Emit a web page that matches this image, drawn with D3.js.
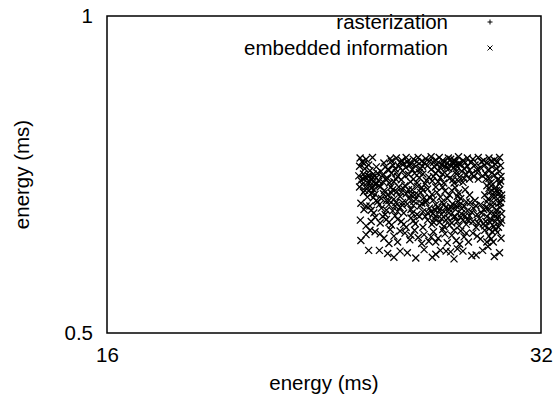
<!DOCTYPE html>
<html><head><meta charset="utf-8">
<script src="https://cdn.jsdelivr.net/npm/d3@7"></script>
<style>body{margin:0;background:#fff}svg{display:block}text{font-family:"Liberation Sans",Arial,sans-serif}</style>
</head><body><svg id="c" width="556" height="398"></svg>
<script>
const seriesNames = ["rasterization", "embedded information"];
const xTicks = [16, 32];
const yTicks = [0.5, 1];
const xLabel = "energy (ms)";
const yLabel = "energy (ms)";
const rasterization = [];
const embeddedInformation = [
[23.97,0.733],[24.20,0.731],[24.45,0.734],[25.40,0.733],[25.62,0.729],[25.80,0.734],[26.10,0.731],[26.30,0.734],[26.45,0.728],[26.62,0.732],[26.85,0.735],[27.05,0.730],[27.20,0.734],[27.40,0.727],[27.60,0.733],[27.85,0.730],[28.05,0.735],[28.25,0.729],[28.45,0.733],[28.70,0.731],[28.95,0.734],[29.20,0.729],[29.45,0.733],[29.70,0.730],[29.95,0.734],[24.05,0.727],[26.95,0.726],[27.75,0.726],[28.60,0.726],[29.85,0.727],
[23.95,0.720],[24.15,0.716],[24.30,0.722],[24.95,0.719],[25.10,0.714],[25.25,0.722],[25.35,0.716],[25.50,0.720],[25.65,0.713],[25.78,0.718],[25.95,0.722],[26.05,0.715],[26.70,0.721],[26.85,0.715],[27.00,0.719],[27.15,0.713],[27.30,0.722],[27.50,0.717],[27.70,0.721],[27.95,0.712],[28.00,0.719],[28.15,0.723],[28.30,0.716],[28.45,0.720],[29.05,0.718],[29.25,0.722],[29.40,0.714],[29.60,0.719],[29.80,0.716],[30.00,0.721],[28.20,0.712],[27.85,0.718],
[23.92,0.705],[24.00,0.698],[24.10,0.708],[24.18,0.702],[24.25,0.695],[24.32,0.704],[24.40,0.699],[24.48,0.708],[24.55,0.693],[24.60,0.702],[24.70,0.697],[24.05,0.692],[24.85,0.706],[25.05,0.701],[25.20,0.709],[25.30,0.696],[25.45,0.704],[25.60,0.699],[25.90,0.707],[26.10,0.700],[26.25,0.694],[26.50,0.708],[26.75,0.703],[26.90,0.697],[27.05,0.709],[27.25,0.702],[27.40,0.694],[27.55,0.706],[27.80,0.699],[27.95,0.708],[28.10,0.703],[28.25,0.695],[28.40,0.707],[28.55,0.700],[28.75,0.704],[29.30,0.708],[29.45,0.701],[29.55,0.695],[29.70,0.706],[29.85,0.699],[30.02,0.704],[29.95,0.693],[24.38,0.691],[26.60,0.693],
[23.95,0.688],[24.10,0.680],[24.25,0.673],[24.40,0.686],[24.55,0.677],[24.70,0.690],[24.80,0.671],[24.92,0.683],[25.05,0.676],[25.18,0.688],[25.30,0.670],[25.42,0.681],[25.55,0.674],[25.68,0.686],[25.80,0.678],[25.92,0.671],[26.05,0.684],[26.15,0.676],[26.28,0.689],[26.40,0.680],[26.55,0.672],[26.70,0.685],[26.88,0.677],[27.05,0.688],[27.25,0.673],[27.45,0.682],[27.65,0.676],[27.90,0.687],[28.05,0.679],[28.15,0.671],[29.35,0.690],[29.50,0.681],[29.62,0.674],[29.75,0.687],[29.90,0.678],[30.05,0.671],[29.40,0.670],[25.10,0.668],[24.60,0.668],[26.95,0.669],
[24.00,0.664],[24.12,0.655],[24.35,0.660],[24.50,0.650],[24.65,0.666],[24.80,0.657],[24.95,0.648],[25.10,0.662],[25.25,0.653],[25.38,0.665],[25.55,0.658],[25.70,0.650],[25.85,0.663],[26.00,0.655],[26.12,0.667],[26.25,0.648],[26.38,0.660],[26.50,0.652],[26.62,0.665],[26.78,0.657],[26.92,0.649],[27.05,0.662],[27.20,0.654],[27.32,0.666],[27.48,0.658],[27.62,0.650],[27.78,0.663],[27.92,0.655],[28.05,0.667],[28.18,0.649],[28.30,0.660],[28.45,0.653],[28.58,0.665],[28.72,0.657],[28.90,0.648],[29.05,0.662],[29.20,0.655],[29.35,0.666],[29.50,0.650],[29.62,0.660],[29.78,0.654],[29.92,0.664],[30.05,0.649],[29.98,0.658],
[23.98,0.640],[24.20,0.632],[24.55,0.644],[24.75,0.636],[25.00,0.641],[25.20,0.633],[25.35,0.646],[25.60,0.638],[25.80,0.630],[26.00,0.643],[26.18,0.635],[26.35,0.645],[26.50,0.630],[26.70,0.640],[26.88,0.634],[27.05,0.646],[27.22,0.637],[27.40,0.631],[27.58,0.643],[27.75,0.636],[27.90,0.645],[28.08,0.632],[28.25,0.640],[28.40,0.634],[28.55,0.646],[28.70,0.638],[28.85,0.630],[29.00,0.642],[29.18,0.635],[29.35,0.645],[29.50,0.637],[29.68,0.631],[29.82,0.643],[30.00,0.636],
[24.20,0.620],[24.55,0.624],[24.90,0.615],[25.15,0.627],[25.30,0.618],[25.45,0.610],[25.75,0.622],[25.95,0.613],[26.15,0.626],[26.30,0.616],[26.55,0.620],[26.75,0.611],[26.95,0.624],[27.15,0.615],[27.35,0.627],[27.55,0.609],[27.75,0.619],[27.95,0.612],[28.15,0.625],[28.30,0.617],[28.50,0.610],[28.70,0.622],[29.05,0.614],[29.25,0.626],[29.45,0.618],[29.65,0.610],[29.85,0.623],[30.02,0.615],[24.00,0.612],[26.45,0.608],
[24.30,0.599],[24.72,0.599],[25.05,0.595],[25.30,0.590],[25.55,0.598],[25.85,0.596],[26.20,0.589],[26.55,0.600],[27.05,0.594],[27.25,0.599],[27.50,0.598],[27.70,0.597],[28.00,0.601],[28.25,0.598],[28.65,0.592],[28.85,0.593],[29.15,0.599],[29.70,0.591],[29.95,0.596],[26.90,0.590],[27.85,0.588],[29.40,0.604],
[24.08,0.701],[24.22,0.689],[24.35,0.696],[24.50,0.684],[24.62,0.693],[24.15,0.683],[24.42,0.679],[24.28,0.705],[24.75,0.688],[24.88,0.695],
[25.85,0.727],[26.00,0.724],[26.20,0.720],[26.40,0.716],[26.55,0.725],[26.35,0.710],[26.15,0.709],[25.70,0.724],
[27.35,0.729],[27.55,0.725],[27.70,0.731],[27.90,0.727],[28.05,0.724],[27.45,0.720],[27.62,0.716],[27.95,0.722],
[29.30,0.700],[29.55,0.690],[29.80,0.683],[29.65,0.665],[29.40,0.657],[29.85,0.648],[29.55,0.641],[29.30,0.638],[29.90,0.630],[29.60,0.624],[29.45,0.628],[30.05,0.640],[29.75,0.674],
[26.85,0.652],[27.00,0.642],[27.15,0.658],[27.30,0.648],[27.50,0.640],[27.65,0.655],[27.85,0.645],[28.00,0.638],[28.20,0.656],[28.35,0.646],[28.50,0.639],[27.40,0.662],[27.95,0.660],
[25.00,0.668],[25.20,0.679],[25.35,0.660],[25.50,0.688],[25.65,0.665],[25.90,0.684],[26.10,0.661],[26.30,0.676],[26.45,0.687],[26.65,0.668],
[25.05,0.715],[25.40,0.710],[24.90,0.725],[25.20,0.728],[28.90,0.710],[28.80,0.668],[28.35,0.684],[28.55,0.676],
[24.12,0.724],[24.35,0.713],[24.60,0.719],[24.78,0.712],[25.15,0.732],[25.55,0.726],[26.25,0.727],[26.48,0.720],[26.78,0.728],[27.10,0.724],[27.25,0.717],[28.35,0.726],[28.55,0.714],[28.80,0.722],[28.90,0.715],[29.10,0.727],[29.35,0.725],[29.55,0.728],[29.75,0.723],[29.95,0.712],
[24.45,0.703],[24.65,0.709],[24.95,0.700],[25.12,0.694],[25.38,0.700],[25.75,0.705],[25.98,0.696],[26.35,0.702],[26.65,0.698],[26.95,0.704],[27.15,0.696],[27.35,0.708],[27.65,0.701],[27.85,0.694],[28.05,0.697],[28.30,0.701],[28.65,0.708],[28.95,0.700],[29.15,0.705],[29.60,0.710],[30.00,0.697],
[24.30,0.682],[24.48,0.672],[24.88,0.678],[25.25,0.684],[25.60,0.680],[25.75,0.690],[26.00,0.676],[26.20,0.670],[26.50,0.683],[26.80,0.672],[27.10,0.680],[27.35,0.688],[27.55,0.671],[27.75,0.683],[28.00,0.674],[29.25,0.676],[29.45,0.686],[29.70,0.680],[29.95,0.684],[30.05,0.676],
[24.20,0.660],[24.40,0.654],[24.72,0.662],[25.00,0.654],[25.45,0.652],[25.65,0.661],[26.05,0.650],[26.45,0.664],[26.70,0.650],[27.00,0.655],[27.40,0.652],[27.70,0.659],[28.10,0.662],[28.40,0.666],[28.65,0.651],[28.85,0.660],[29.10,0.650],[29.30,0.658],[29.70,0.648],[30.00,0.665],
[24.40,0.638],[24.85,0.645],[25.10,0.637],[25.45,0.641],[25.70,0.634],[26.10,0.639],[26.60,0.645],[26.95,0.637],[27.30,0.642],[27.65,0.633],[28.15,0.644],[28.45,0.641],[28.95,0.636],[29.25,0.632],[29.75,0.638],
[24.35,0.626],[24.75,0.621],[25.55,0.625],[26.00,0.619],[26.85,0.617],[27.45,0.621],[27.85,0.626],[28.40,0.622],[28.90,0.618],[29.55,0.614],[29.75,0.627],[25.10,0.608],[27.05,0.610],[28.10,0.607],[29.35,0.610]
];

const svg = d3.select("#c");
const L = 107, R = 541, T = 16, B = 333;
const x = d3.scaleLog().base(2).domain([16, 32]).range([L, R]);
const y = d3.scaleLog().base(2).domain([0.5, 1]).range([B, T]);
const FS = 20.5;

const xa = svg.append("g").attr("transform", `translate(0,${B})`)
  .call(d3.axisBottom(x).tickValues(xTicks).tickFormat(d => String(d)).tickSize(0).tickPadding(14));
const ya = svg.append("g").attr("transform", `translate(${L},0)`)
  .call(d3.axisLeft(y).tickValues(yTicks).tickFormat(d => String(d)).tickSize(0).tickPadding(14));
[xa, ya].forEach(g => {
  g.select(".domain").remove();
  g.selectAll("text").attr("font-size", FS).attr("fill", "#000")
   .style("font-family", '"Liberation Sans",Arial,sans-serif');
});

svg.append("rect").attr("x", L).attr("y", T).attr("width", R - L).attr("height", B - T)
  .attr("fill", "none").attr("stroke", "#000").attr("stroke-width", 1.5);

svg.append("text").attr("x", (L + R) / 2).attr("y", 390).attr("text-anchor", "middle")
  .attr("font-size", FS).text(xLabel);
svg.append("text").attr("transform", `translate(29,${(T + B) / 2}) rotate(-90)`)
  .attr("text-anchor", "middle").attr("font-size", FS).text(yLabel);

const s = 3.5;
const crossPath = `M${-s},${-s}L${s},${s}M${-s},${s}L${s},${-s}`;
const plusPath = `M${-s},0L${s},0M0,${-s}L0,${s}`;

svg.append("g").selectAll("path").data(rasterization).join("path")
  .attr("transform", d => `translate(${x(d[0])},${y(d[1])})`)
  .attr("d", plusPath).attr("stroke", "#000").attr("stroke-width", 1.3).attr("fill", "none");
svg.append("g").selectAll("path").data(embeddedInformation).join("path")
  .attr("transform", d => `translate(${x(d[0])},${y(d[1])})`)
  .attr("d", crossPath).attr("stroke", "#000").attr("stroke-width", 1.3).attr("fill", "none");

// legend
const leg = svg.append("g");
const ls = 2.5;
const legPaths = [
  `M${-ls},0L${ls},0M0,${-ls}L0,${ls}`,
  `M${-ls},${-ls}L${ls},${ls}M${-ls},${ls}L${ls},${-ls}`
];
seriesNames.forEach((n, i) => {
  const cy = 22 + i * 26;
  leg.append("text").attr("x", 448).attr("y", cy + 7).attr("text-anchor", "end")
    .attr("font-size", FS).text(n);
  leg.append("path").attr("transform", `translate(490,${cy})`).attr("d", legPaths[i])
    .attr("stroke", "#000").attr("stroke-width", 1).attr("fill", "none");
});
</script></body></html>
